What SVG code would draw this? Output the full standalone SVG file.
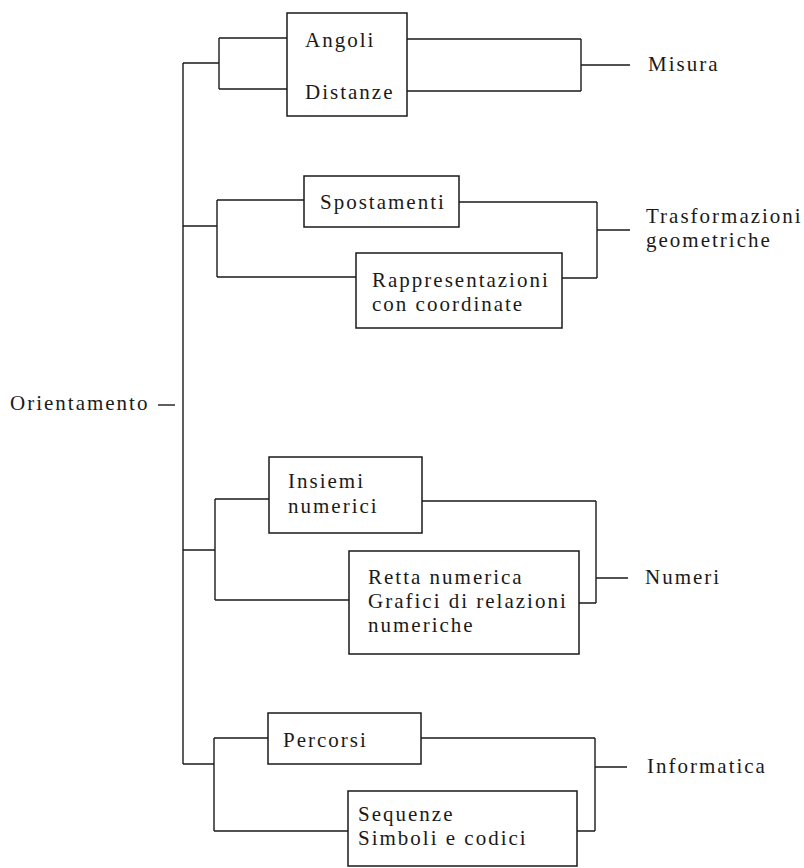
<svg xmlns="http://www.w3.org/2000/svg" width="804" height="868" viewBox="0 0 804 868">
<style>
text{font-family:"Liberation Serif","Times New Roman",serif;font-size:21px;letter-spacing:2px;fill:#1a1a1a}
.box{fill:#fff;stroke:#1a1a1a;stroke-width:1.5}
.ln{fill:none;stroke:#1a1a1a;stroke-width:1.4}
</style>
<rect width="804" height="868" fill="#fff"/>
<g id="connectors">
<path class="ln" d="M158,405 H175"/>
<path class="ln" d="M183,63 V764"/>
<path class="ln" d="M183,63 H219 M219,38 V89 M219,38 H287 M219,89 H287"/>
<path class="ln" d="M407,39 H581 M407,91 H581 M581,39 V91 M581,65 H630"/>
<path class="ln" d="M183,226 H217 M217,200 V277 M217,200 H304 M217,277 H356"/>
<path class="ln" d="M459,202 H597 M562,278 H597 M597,202 V278 M597,230 H630"/>
<path class="ln" d="M183,550 H215 M215,499 V600 M215,499 H269 M215,600 H349"/>
<path class="ln" d="M422,501 H596 M579,603 H596 M596,501 V603 M596,578 H628"/>
<path class="ln" d="M183,764 H214 M214,738 V831 M214,738 H268 M214,831 H348"/>
<path class="ln" d="M421,738 H595 M577,831 H595 M595,738 V831 M595,767 H627"/>
</g>
<g id="orientamento"><text x="10" y="410">Orientamento</text></g>
<g id="angoli-distanze">
<rect class="box" x="287" y="13" width="120" height="103"/>
<text x="305" y="47">Angoli</text>
<text x="305" y="99">Distanze</text>
</g>
<g id="misura"><text x="648" y="71">Misura</text></g>
<g id="spostamenti">
<rect class="box" x="304" y="176" width="155" height="51"/>
<text x="320" y="209">Spostamenti</text>
</g>
<g id="rappresentazioni">
<rect class="box" x="356" y="253" width="206" height="75"/>
<text x="372" y="287">Rappresentazioni</text>
<text x="372" y="311">con coordinate</text>
</g>
<g id="trasformazioni">
<text x="646" y="223">Trasformazioni</text>
<text x="646" y="247">geometriche</text>
</g>
<g id="insiemi">
<rect class="box" x="269" y="457" width="153" height="76"/>
<text x="288" y="488">Insiemi</text>
<text x="288" y="513">numerici</text>
</g>
<g id="retta">
<rect class="box" x="349" y="551" width="230" height="103"/>
<text x="368" y="584">Retta numerica</text>
<text x="368" y="608">Grafici di relazioni</text>
<text x="368" y="632">numeriche</text>
</g>
<g id="numeri"><text x="645" y="584">Numeri</text></g>
<g id="percorsi">
<rect class="box" x="268" y="713" width="153" height="51"/>
<text x="283" y="747">Percorsi</text>
</g>
<g id="sequenze">
<rect class="box" x="348" y="791" width="229" height="75"/>
<text x="358" y="821">Sequenze</text>
<text x="358" y="845">Simboli e codici</text>
</g>
<g id="informatica"><text x="647" y="773">Informatica</text></g>
</svg>
